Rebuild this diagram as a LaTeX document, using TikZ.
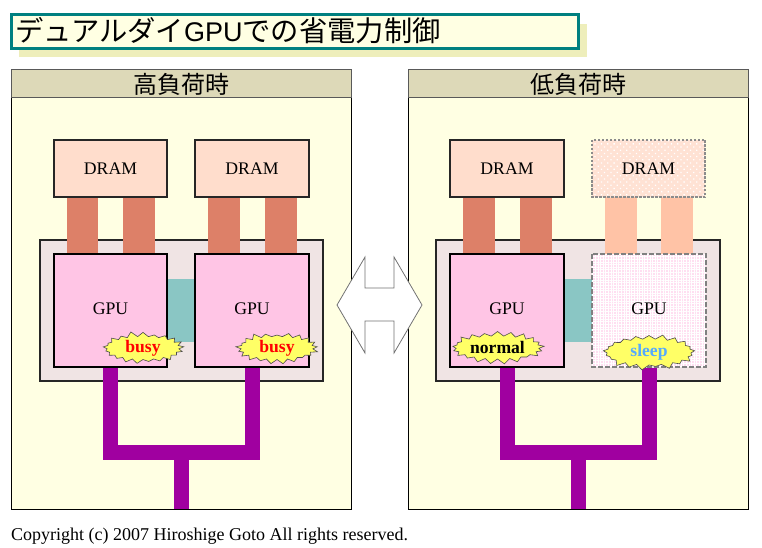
\documentclass[tikz,border=0pt]{standalone}
\usepackage{fontspec}
\setmainfont{Liberation Serif}
\newfontfamily\jpfont{Noto Sans CJK JP}
\newfontfamily\latinsans{Liberation Sans}
\usetikzlibrary{shapes.symbols,patterns,patterns.meta,calc}
\definecolor{paper}{HTML}{FFFFE3}
\definecolor{shadowc}{HTML}{EEEEBB}
\definecolor{teal2}{HTML}{008080}
\definecolor{headc}{HTML}{DDD9B8}
\definecolor{dramc}{HTML}{FFDDCC}
\definecolor{linkc}{HTML}{DD8068}
\definecolor{linklt}{HTML}{FFC3A6}
\definecolor{pkgc}{HTML}{F0E4E4}
\definecolor{gpuc}{HTML}{FFC5E5}
\definecolor{tealc}{HTML}{8AC6C4}
\definecolor{busc}{HTML}{A000A0}
\definecolor{burstc}{HTML}{FFFF66}
\definecolor{sleepc}{HTML}{55AAFF}
\newcommand{\bx}[7]{\node[#2,minimum width=#5-#3,minimum height=#6-#4] (#1) at ({(#3+#5)/2},{(#4+#6)/2}) {#7};}
\tikzset{
  base/.style={rectangle,inner sep=0pt,outer sep=0pt,font=\fontsize{17.7}{18}\selectfont},
  titlebox/.style={base,fill=paper,draw=teal2,line width=3.6pt,align=left},
  shadowbox/.style={base,fill=shadowc},
  headbox/.style={base,fill=headc,draw=black!65,line width=1pt,font=\fontsize{24}{24}\selectfont\jpfont},
  bodybox/.style={base,fill=paper,draw=black,line width=1pt},
  drambox/.style={base,fill=dramc,draw=black!85,line width=1.5pt},
  dramoff/.style={base,fill=dramc!85,draw=none},
  linkbox/.style={base,fill=linkc},
  linkoff/.style={base,fill=linklt},
  pkgbox/.style={base,fill=pkgc,draw=black!85,line width=1.2pt},
  gpubox/.style={base,fill=gpuc,draw=black,line width=2.6pt},
  gpuoff/.style={base,fill=gpuc!55,draw=none},
  tealbox/.style={base,fill=tealc},
  bus/.style={draw=busc,line width=15pt},
  burst/.style={starburst,starburst points=21,starburst point height=5.5pt,fill=burstc,draw=black!70,line width=.6pt,inner sep=0pt,outer sep=0pt,font=\fontsize{17.6}{18}\selectfont\bfseries},
  arrowshape/.style={fill=white,draw=black!55,line width=.8pt},
}
\begin{document}
\begin{tikzpicture}[x=1pt,y=-1pt]
\useasboundingbox (0,0) rectangle (762,548);
\fill[white] (0,0) rectangle (762,548);
% title
\bx{tshadow}{shadowbox}{19}{24}{587}{57}{}
\bx{title}{titlebox}{11.5}{14.5}{578.5}{48.5}{}
\node[anchor=west,inner sep=0pt,font=\fontsize{28.3}{28}\selectfont\jpfont] (titletext) at (15,30.5) {デュアルダイ{\latinsans\fontsize{27}{28}\selectfont GPU}での省電力制御};
% panels
\foreach \o/\n/\t in {0/l/高負荷時,397/r/低負荷時}{
  \begin{scope}[shift={(\o,0)}]
  \bx{body\n}{bodybox}{11}{98}{351}{509}{}
  \bx{head\n}{headbox}{11}{70}{351}{98}{\t}
  \end{scope}
}
% arrow
\draw[arrowshape] (337,305) -- (365,257) -- (365,288) -- (394,288) -- (394,257) -- (422,305) -- (394,353) -- (394,321) -- (365,321) -- (365,353) -- cycle;
% buses
\coordinate (stemla) at (181.5,509);
\coordinate (stemra) at (578,509);
% packages
\bx{pkgl}{pkgbox}{40}{240}{323}{381}{}
\bx{pkgr}{pkgbox}{436}{240}{720}{381}{}
% memory links
\bx{l1}{linkbox}{67}{197}{98}{254}{}
\bx{l2}{linkbox}{123}{197}{155}{254}{}
\bx{l3}{linkbox}{208}{197}{240}{254}{}
\bx{l4}{linkbox}{265}{197}{297}{254}{}
\bx{r1}{linkbox}{463}{197}{495}{254}{}
\bx{r2}{linkbox}{520}{197}{552}{254}{}
\bx{r3}{linkoff}{605}{197}{637}{254}{}
\bx{r4}{linkoff}{661}{197}{693}{254}{}
% DRAM
\bx{dl1}{drambox}{54}{140}{167}{197}{DRAM}
\bx{dl2}{drambox}{195}{140}{309}{197}{DRAM}
\bx{dr1}{drambox}{450}{140}{564}{197}{DRAM}
\bx{dr2}{dramoff}{592}{140}{705}{197}{}
\fill[pattern={Dots[radius=.9pt,distance=4.5pt,angle=45]},pattern color=white] (dr2.north west) rectangle (dr2.south east);
\draw[draw=black!45,line width=1.1pt,dash pattern=on 2.5pt off 1.5pt] (dr2.north west) rectangle (dr2.south east);
\node[base] (dr2t) at (dr2.center) {DRAM};
% die links
\bx{tl}{tealbox}{167}{279}{195}{342}{}
\bx{tr}{tealbox}{564}{279}{592}{342}{}
% GPUs
\bx{gl1}{gpubox}{54}{254}{167}{367}{}
\bx{gl2}{gpubox}{195}{254}{309}{367}{}
\bx{gr1}{gpubox}{450}{254}{564}{367}{}
\bx{gr2}{gpuoff}{592}{254}{706}{367}{}
\fill[pattern={Lines[angle=0,distance=2.6pt,line width=.8pt]},pattern color=white] (gr2.north west) rectangle (gr2.south east);
\fill[pattern={Lines[angle=90,distance=2.6pt,line width=.8pt]},pattern color=white] (gr2.north west) rectangle (gr2.south east);
\draw[black!50,line width=2.8pt,dash pattern=on 5pt off 2pt] (gr2.north west) rectangle (gr2.south east);
\node[base] (tgl1) at (110.5,308.5) {GPU};
\node[base] (tgl2) at (252,308.5) {GPU};
\node[base] (tgr1) at (507,308.5) {GPU};
\node[base] (tgr2) at (649,308.5) {GPU};
% bus lines
\draw[bus] ($(gl1.south)+(0,1)$) -- (110.5,452.5) -- (252,452.5) -- ($(gl2.south)+(0,1)$);
\draw[bus] (181.5,452.5) -- (stemla);
\draw[bus] ($(gr1.south)+(0,1)$) -- (507,452.5) -- (649,452.5) -- (649,368);
\draw[bus] (578,452.5) -- (stemra);
% bursts
\node[burst,minimum width=83pt,minimum height=34pt,random starburst=11] (b1) at (143,348) {\textcolor{red}{busy}};
\node[burst,minimum width=83pt,minimum height=34pt,random starburst=23] (b2) at (277,348) {\textcolor{red}{busy}};
\node[burst,minimum width=94pt,minimum height=34pt,random starburst=37] (b3) at (497.5,347.5) {normal};
\node[burst,minimum width=95pt,minimum height=37pt,random starburst=51] (b4) at (649,352) {\textcolor{sleepc}{sleep}};
% copyright
\node[anchor=west,inner sep=0pt,font=\fontsize{18}{18}\selectfont] (copy) at (11,536) {Copyright (c) 2007 Hiroshige Goto All rights reserved.};
\end{tikzpicture}
\end{document}
